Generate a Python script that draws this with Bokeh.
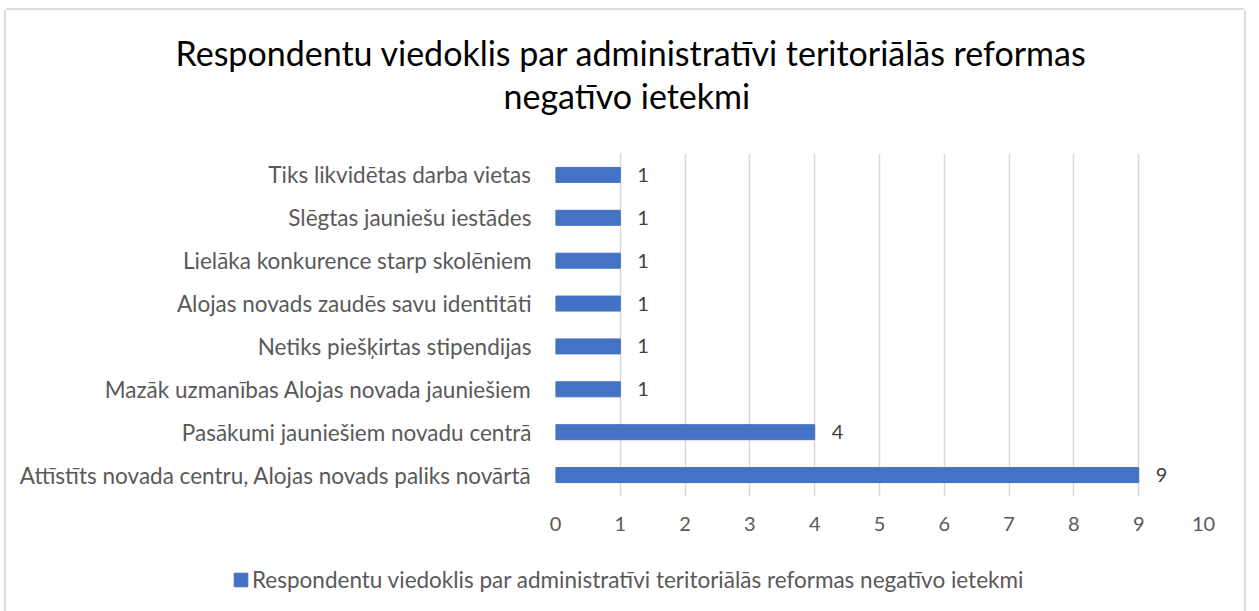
from bokeh.plotting import figure
from bokeh.models import (ColumnDataSource, FactorRange, Range1d, FixedTicker,
                          LabelSet, Legend, LegendItem, Title)
from bokeh.core.properties import value
from bokeh.embed import file_html
from bokeh.resources import INLINE

# ---- data (top-level named arrays) ----
categories = [
    "Attīstīts novada centru, Alojas novads paliks novārtā",
    "Pasākumi jauniešiem novadu centrā",
    "Mazāk uzmanības Alojas novada jauniešiem",
    "Netiks piešķirtas stipendijas",
    "Alojas novads zaudēs savu identitāti",
    "Lielāka konkurence starp skolēniem",
    "Slēgtas jauniešu iestādes",
    "Tiks likvidētas darba vietas",
]
values = [9, 4, 1, 1, 1, 1, 1, 1]
x_ticks = [0, 1, 2, 3, 4, 5, 6, 7, 8, 9, 10]
series_name = "Respondentu viedoklis par administratīvi teritoriālās reformas negatīvo ietekmi"
title_line1 = "Respondentu viedoklis par administratīvi teritoriālās reformas"
title_line2 = "negatīvo ietekmi"

FONT = "Lato"
BAR = "#4472C4"
GRID = "#D9D9D9"
TXT = "#595959"
EDGE = "#DDDDDD"

source = ColumnDataSource(dict(cat=categories, val=values,
                               lbl=[str(v) for v in values]))

# ---------------- main chart ----------------
p = figure(width=1238, height=545,
           y_range=FactorRange(factors=categories, range_padding=0),
           x_range=Range1d(0, 10),
           output_backend="svg", toolbar_location=None,
           min_border_left=549, min_border_right=41,
           min_border_top=143, min_border_bottom=59,
           margin=(10, 0, 0, 6),
           background_fill_color="white", border_fill_color="white",
           styles={"box-shadow": f"-2px 0 0 0 {EDGE}, 2px 0 0 0 {EDGE}, 0 -2px 0 0 {EDGE}"})
p.outline_line_color = None

bars = p.hbar(y="cat", right="val", left=0, height=0.35, source=source,
              fill_color=BAR, line_color=BAR)

labels = LabelSet(x="val", y="cat", text="lbl", source=source, x_offset=17,
                  text_baseline="middle", text_align="left",
                  text_font=value(FONT), text_font_size="20px", text_color="#404040")
p.add_layout(labels)

p.xaxis.ticker = FixedTicker(ticks=x_ticks)
p.xaxis.axis_line_color = None
p.xaxis.major_tick_line_color = None
p.xaxis.minor_tick_line_color = None
p.xaxis.major_tick_out = 0
p.xaxis.major_tick_in = 0
p.xaxis.major_label_standoff = 20
p.xaxis.major_label_text_font = FONT
p.xaxis.major_label_text_font_size = "20px"
p.xaxis.major_label_text_color = TXT

p.yaxis.axis_line_color = None
p.yaxis.major_tick_line_color = None
p.yaxis.major_tick_out = 0
p.yaxis.major_tick_in = 0
p.yaxis.major_label_standoff = 24
p.yaxis.major_label_text_font = FONT
p.yaxis.major_label_text_font_size = "22.5px"
p.yaxis.major_label_text_color = TXT

p.xgrid.grid_line_color = GRID
p.xgrid.grid_line_width = 1.5
p.ygrid.grid_line_color = None

spacer = Title(text=" ", text_font_size="10px", standoff=25)
t2 = Title(text=title_line2, align="left", offset=-52, standoff=0,
           text_font=FONT, text_font_size="34px", text_font_style="normal",
           text_color="black")
t1 = Title(text=title_line1, align="left", offset=-380, standoff=0,
           text_font=FONT, text_font_size="34px", text_font_style="normal",
           text_color="black")
p.add_layout(spacer, "above")
p.add_layout(t2, "above")
p.add_layout(t1, "above")

# ---------------- legend strip (separate root, so frames are not aligned) ----
lg = figure(width=1238, height=56, x_range=Range1d(0, 1), y_range=Range1d(0, 1),
            output_backend="svg", toolbar_location=None,
            x_axis_location=None, y_axis_location=None,
            min_border=0, min_border_left=0, min_border_right=0,
            min_border_top=0, min_border_bottom=0,
            margin=(0, 0, 0, 6),
            background_fill_color="white", border_fill_color="white",
            styles={"box-shadow": f"-2px 0 0 0 {EDGE}, 2px 0 0 0 {EDGE}"})
lg.outline_line_color = None
lg.grid.visible = False
# swatch renderer kept outside the visible range; only its legend glyph shows
swatch = lg.hbar(y=[-5], right=[1], left=0, height=0.35,
                 fill_color=BAR, line_color=BAR)

legend = Legend(items=[LegendItem(label=series_name, renderers=[swatch])],
                location=(226, 18), orientation="horizontal",
                padding=0, margin=0, border_line_color=None,
                background_fill_alpha=0,
                glyph_width=17, glyph_height=17, label_height=20,
                label_standoff=3,
                label_text_font=FONT, label_text_font_size="22.5px",
                label_text_color=TXT)
lg.add_layout(legend, "center")

open("out.html", "w").write(file_html([p, lg], INLINE))
